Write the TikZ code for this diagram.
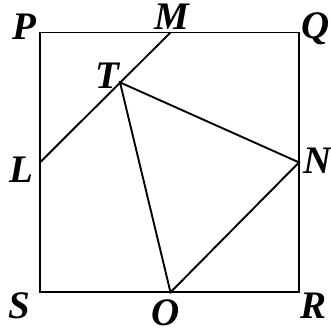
\documentclass[tikz,border=0pt]{standalone}
\usepackage{fontspec}
\setmainfont{Liberation Serif}
\begin{document}
\begin{tikzpicture}[x=1pt,y=-1pt,
  edge/.style={line width=1.9pt, line join=miter},
  lab/.style={font=\fontsize{39}{39}\selectfont\bfseries\itshape, inner sep=0pt}]
\useasboundingbox (0,0) rectangle (331,332);
\coordinate (P) at (40,32.5);
\coordinate (Q) at (299,32.5);
\coordinate (R) at (299,292.3);
\coordinate (S) at (40,292.3);
\coordinate (M) at (170.5,32.5);
\coordinate (L) at (40,162.4);
\coordinate (N) at (299,162.4);
\coordinate (O) at (170.5,292.3);
\coordinate (T) at (120,82.4);
\draw[edge] (P) -- (Q) -- (R) -- (S) -- cycle;
\draw[edge] (L) -- (M);
\draw[edge] (T) -- (N) -- (O) -- cycle;
\node[lab] (lP) at (24,27) {P};
\node[lab] (lM) at (172,17) {M};
\node[lab] (lQ) at (316,29) {Q};
\node[lab] (lT) at (107,76) {T};
\node[lab] (lL) at (21,170) {L};
\node[lab] (lN) at (318,161) {N};
\node[lab] (lS) at (19,306) {S};
\node[lab] (lO) at (166,312.5) {O};
\node[lab] (lR) at (314,306) {R};
\end{tikzpicture}
\end{document}
